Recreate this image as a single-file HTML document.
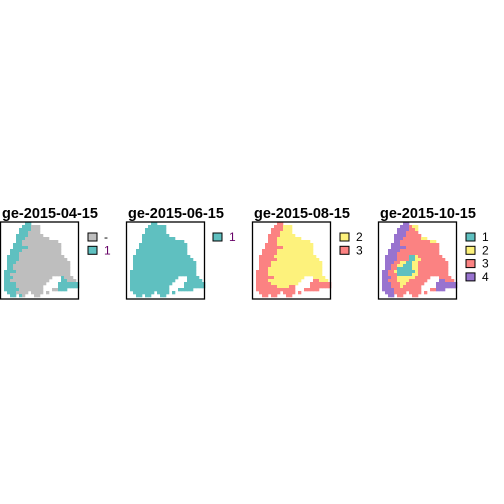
<!DOCTYPE html>
<html><head><meta charset="utf-8"><style>
html,body{margin:0;padding:0;background:#fff;}
svg{display:block;font-family:"Liberation Sans",Arial,sans-serif;}
</style></head><body>
<svg id="chart" width="504" height="504" viewBox="0 0 504 504" xmlns="http://www.w3.org/2000/svg"></svg>
<script>
const panelTitles = ["ge-2015-04-15","ge-2015-06-15","ge-2015-08-15","ge-2015-10-15"];
const legendCodes = [["-","1"],["1"],["2","3"],["1","2","3","4"]];
const colorOf = {"-":"#bebebe","1":"#5fc0c0","2":"#fdf27c","3":"#fb8282","4":"#9873cf"};
const charMap = {G:"-",T:"1",Y:"2",R:"3",P:"4"};
const grid1 = [
"........TT................",".......TTTGGG.............","......TTTTGGG.............","......TTTGGGG.............",
".....TTTTGGGGG............",".....TTTGGGGGGGG..........",".....TTGGGGGGGGGGGG.......","....TTTGGGGGGGGGGGGG......",
"....TTTTTGGGGGGGGGGG......","...TTTTGGGGGGGGGGGGG......","...TTTGGGGGGGGGGGGGG......","..TTTTGGGGGGGGGGGGGGG.....",
"..TTTTGGGGGGGGGGGGGGGG....","..TTTGGGGGGGGGGGGGGGGGG...","..TTGGGGGGGGGGGGGGGGGGG...","..TTGGGGGGGGGGGGGGGGGGG...",
".TTTTGGGGGGGGGGGGGGGGGG...",".TTGGGGGGGGGGGGGGGGGGGG...",".TTTGGGGGGGGGGGGG...TGGG..",".TTGGGGGGGGGGGGG....TTGGG.",
".TTTTGGGGGGGGGG....TTTTTTT",".TTTTGGGGGGGGG.....TTTTTTT",".TTTTTGGGGGGGG...GGTTT....","..TTTGGGG.GGGG.G..........",
"...TT.TG...GG............."];
const grid3 = [
"........RR................",".......RRRYYY.............","......RRRRYYY.............","......RRRYYYY.............",
".....RRRRYYYYY............",".....RRRYYYYYYYY..........",".....RRRYYYYYYYYYYY.......","....RRRRYYYYYYYYYYYY......",
"....RRRRRRYYYYYYYYYY......","...RRRRRYYYYYYYYYYYY......","...RRRRRYYYYYYYYYYYY......","..RRRRRYYYYYYYYYYYYYY.....",
"..RRRRRRYYYYYYYYYYYYYY....","..RRRRYYYYYYYYYYYYYYYYY...","..RRRRYYYYYYYYYYYYYYYYY...","..RRRYYYYYYYYYYYYYYYYYY...",
".RRRRYYYYYYYYYYYYYYYYYY...",".RRRRYYYYYYYYYYYYYYYYYY...",".RRRRRRYYYYYYYYYY...YYYY..",".RRRRYYYYYYYYYYY....RRYYY.",
".RRRRRYYYYYYYYY....RRRRRRR",".RRRRRRRYYYYRR.....RRRRRRR",".RRRRRRRRRRRRR...RRRRR....","..RRRRRRR.RRRR.R..........",
"...RR.RR...RR............."];
const grid4 = [
"........PP................",".......PPPRYY.............","......PPPPRRY.............","......PPPRRRR.............",
".....PPPPRRRRR............",".....PPPRRRRRRYY..........",".....PPRRRRRRRRRRYY.......","....PPPRRRRRRRRRRRRR......",
"....PPPPPRRRRRRRRRRR......","...PPPPRRRRRRRRRRRRR......","...PPPRRRRRRRRRRRRRR......","..PPPPRRRRTTYRRRRRRRR.....",
"..PPPPRRRRTTYYRRRRRRRR....","..PPPRRYYTTYYRRRRRRRRRR...","..PPRRYYTTTYYRRRRRRRRRR...","..PPRRTTTTTYYRRRRRRRRRR...",
".PPRRYTTTTTTYRRRRRRRRRR...",".PPRRRTTTTTYYRRRRRRRRRR...",".PPPRRYYYYYYRRRRR...RRRR..",".PPRRRYYYYRRRRRR....PPRRR.",
".PPPRRRYYRRRRRR....PPPPPPP",".PPPRRRYRRRRRR.....PPPPPPP",".PPPPRRRRRRRRR...RRPPP....","..PPPRRRR.RRRR.R..........",
"...PP.RR...RR............."];
const grid2 = grid4.map(r => r.replace(/[^.]/g,"T"));
const grids = [grid1, grid2, grid3, grid4];
const labelColors = [["#000","#660066"],["#660066"],["#000","#000"],["#000","#000","#000","#000"]];

const NS = "http://www.w3.org/2000/svg";
const svg = document.getElementById("chart");
const panelX = [1,127,253,379], boxY = 222, cell = 3;
const keyX = [88,213,340,466], labX = [104,229,356,482];
function mk(tag, attrs){const e=document.createElementNS(NS,tag);for(const k in attrs)e.setAttribute(k,attrs[k]);return e;}
function xScale(p,c){return panelX[p]+c*cell;}
function yScale(r){return boxY+r*cell;}
grids.forEach((g,p)=>{
  const grp = mk("g",{});
  
  
  svg.appendChild(grp);
  g.forEach((row,r)=>{
    for(let c=0;c<row.length;c++){
      const ch=row[c]; if(ch===".") continue;
      const rc = mk("rect",{x:xScale(p,c),y:yScale(r),width:cell+0.3,height:cell+0.3,fill:colorOf[charMap[ch]]});
      
      
      grp.appendChild(rc);
    }
  });
  const box = mk("rect",{x:panelX[p]-0.5,y:boxY,width:78,height:77,fill:"none",stroke:"#000","stroke-width":1.3});
  
  
  grp.appendChild(box);
  const t = mk("text",{x:panelX[p]+1,y:218,"font-size":"14.5","font-weight":"bold",fill:"#000"});
  t.textContent = panelTitles[p];
  
  
  grp.appendChild(t);
  legendCodes[p].forEach((code,i)=>{
    const y = 233 + i*13.3;
    const k = mk("rect",{x:keyX[p],y:y,width:9,height:8,fill:colorOf[code],stroke:"#000","stroke-width":1});
    
    
    grp.appendChild(k);
    const l = mk("text",{x:labX[p],y:y+8,"font-size":"12",fill:labelColors[p][i]});
    l.textContent = code;
    
    
    grp.appendChild(l);
  });
});
</script>
</body></html>
